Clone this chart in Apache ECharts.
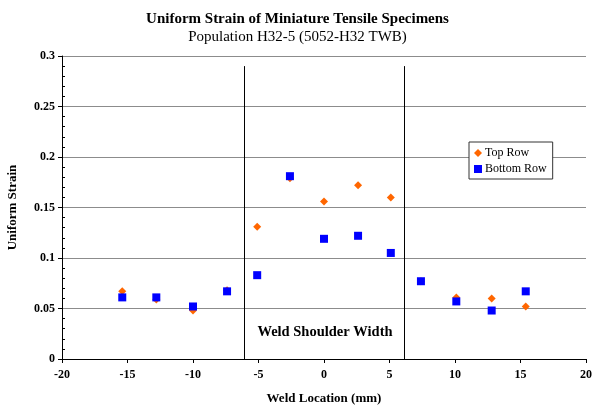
<!DOCTYPE html>
<html>
<head>
<meta charset="utf-8">
<script src="https://cdn.jsdelivr.net/npm/echarts@6/dist/echarts.min.js"></script>
<style>
  html, body { margin: 0; padding: 0; background: #fff; }
  #chart { width: 595px; height: 411px; }
</style>
</head>
<body>
<div id="chart"></div>
<script>
// weld location (mm) of each specimen
var locations = [-15.4, -12.8, -10.0, -7.4, -5.1, -2.6, 0, 2.6, 5.1, 7.4, 10.1, 12.8, 15.4]
var topRow = [0.067, 0.059, 0.048, 0.068, 0.131, 0.179, 0.156, 0.172, 0.160, 0.077, 0.061, 0.060, 0.052]
var bottomRow = [0.061, 0.061, 0.052, 0.067, 0.083, 0.181, 0.119, 0.122, 0.105, 0.077, 0.057, 0.048, 0.067]
// weld shoulder edges
var shoulderEdges = [-6.05, 6.15]
var shoulderTop = 0.29

var font = '"Liberation Serif", "Times New Roman", serif'

var chart = echarts.init(document.getElementById('chart'))

var pairs = function (ys) {
    return locations.map(function (x, i) { return [x, ys[i]] })
}

var option = {
    animation: false,
    textStyle: { fontFamily: font },
    title: {
        text: 'Uniform Strain of Miniature Tensile Specimens',
        subtext: 'Population H32-5 (5052-H32 TWB)',
        left: 'center',
        top: 7,
        itemGap: 3,
        textStyle: { fontFamily: font, fontSize: 15, fontWeight: 'bold', color: '#000' },
        subtextStyle: { fontFamily: font, fontSize: 15, color: '#000' }
    },
    legend: {
        orient: 'vertical',
        left: 469,
        top: 142,
        width: 85,
        padding: [5, 6, 4, 5],
        itemGap: 4,
        itemWidth: 8,
        itemHeight: 8,
        backgroundColor: '#fff',
        borderColor: '#333',
        borderWidth: 1,
        textStyle: { fontFamily: font, fontSize: 12, color: '#000', padding: [0, 0, 0, -2] },
        data: ['Top Row', 'Bottom Row']
    },
    grid: { left: 62, right: 9, top: 56, bottom: 52, outerBoundsMode: 'none' },
    xAxis: {
        type: 'value',
        min: -20,
        max: 20,
        interval: 5,
        name: 'Weld Location (mm)',
        nameLocation: 'middle',
        nameGap: 33,
        nameTextStyle: { fontFamily: font, fontSize: 13, fontWeight: 'bold', color: '#000' },
        axisLine: { onZero: false, lineStyle: { color: '#000', width: 1 } },
        axisTick: { show: true, length: 4, lineStyle: { color: '#000' } },
        axisLabel: { fontFamily: font, fontSize: 12, fontWeight: 'bold', color: '#000', margin: 10 },
        splitLine: { show: false }
    },
    yAxis: {
        type: 'value',
        min: 0,
        max: 0.3,
        interval: 0.05,
        name: 'Uniform Strain',
        nameLocation: 'middle',
        nameGap: 43,
        nameTextStyle: { fontFamily: font, fontSize: 13, fontWeight: 'bold', color: '#000' },
        axisLine: { show: true, onZero: false, lineStyle: { color: '#000', width: 1 } },
        axisTick: { show: true, inside: false, length: 4, lineStyle: { color: '#000' } },
        // minor ticks sit outside, like the major ones
        minorTick: { show: true, splitNumber: 5, length: -3, lineStyle: { color: '#000' } },
        axisLabel: { fontFamily: font, fontSize: 12, fontWeight: 'bold', color: '#000', margin: 7 },
        splitLine: { show: true, lineStyle: { color: '#8c8c8c', width: 1 } }
    },
    series: [
        {
            name: 'Top Row',
            type: 'scatter',
            symbol: 'diamond',
            symbolSize: 8,
            itemStyle: { color: '#ff6600', opacity: 1 },
            data: pairs(topRow),
            z: 3
        },
        {
            name: 'Bottom Row',
            type: 'scatter',
            symbol: 'rect',
            symbolSize: 8,
            itemStyle: { color: '#0000ff', opacity: 1 },
            data: pairs(bottomRow),
            z: 4,
            markLine: {
                silent: true,
                symbol: ['none', 'none'],
                label: { show: false },
                lineStyle: { color: '#000', width: 1, type: 'solid', opacity: 1 },
                emphasis: { disabled: true },
                data: shoulderEdges.map(function (x) {
                    return [{ coord: [x, 0] }, { coord: [x, shoulderTop] }]
                })
            }
        }
    ],
    graphic: [{
        type: 'text',
        x: 325,
        y: 332,
        style: {
            text: 'Weld Shoulder Width',
            font: 'bold 14.5px ' + font,
            fill: '#000',
            align: 'center',
            verticalAlign: 'middle'
        }
    }]
}

chart.setOption(option)
</script>
</body>
</html>
